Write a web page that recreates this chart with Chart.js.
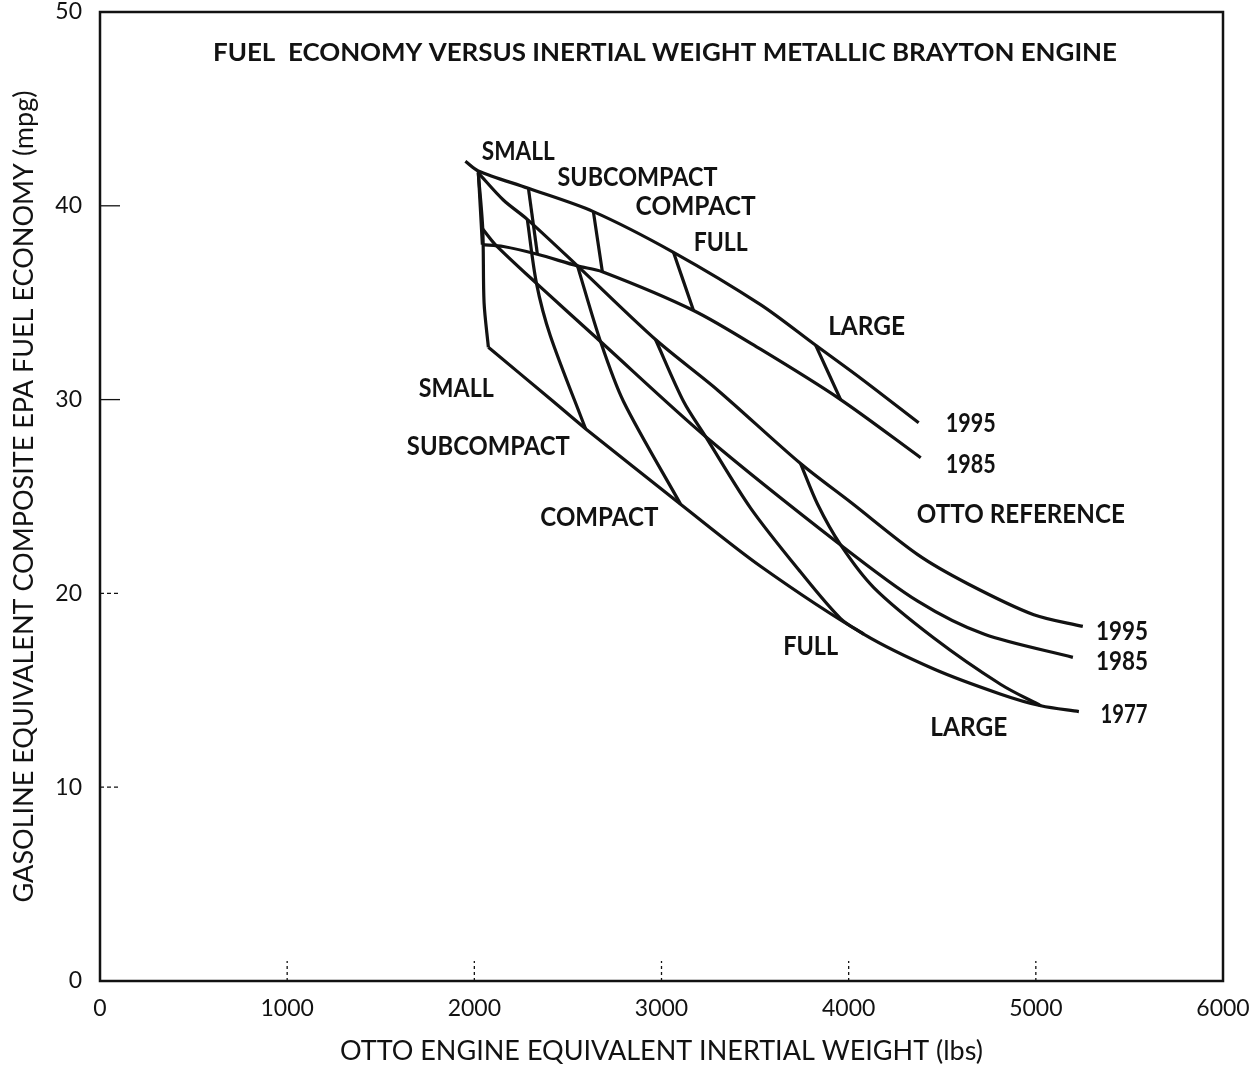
<!DOCTYPE html>
<html>
<head>
<meta charset="utf-8">
<title>Fuel economy versus inertial weight - metallic Brayton engine</title>
<script src="https://cdn.jsdelivr.net/npm/chart.js@4.4.1/dist/chart.umd.min.js"></script>
<style>
  html, body { margin: 0; padding: 0; background: #fff; }
  #wrap { width: 1256px; height: 1067px; }
</style>
</head>
<body>
<div id="wrap"><canvas id="myChart"></canvas></div>
<script>
// [inertial weight (lbs), mpg]

// metallic brayton engine
var brayton1995 = [[1952, 42.3], [2021, 41.8], [2289, 40.9], [2636, 39.7], [3064, 37.6], [3529, 34.9], [3824, 32.8], [4064, 31.1], [4374, 28.8]];
var brayton1985 = [[2043, 38.0], [2155, 37.9], [2337, 37.5], [2551, 36.9], [2684, 36.6], [3171, 34.6], [3529, 32.6], [3957, 30.0], [4385, 27.0]];

// brayton class tie lines (1995 -> 1985)
var braytonSmall = [[2021, 41.8], [2043, 38.0]];
var braytonSubcompact = [[2289, 40.9], [2337, 37.5]];
var braytonCompact = [[2636, 39.7], [2684, 36.6]];
var braytonFull = [[3064, 37.6], [3171, 34.6]];
var braytonLarge = [[3824, 32.8], [3957, 30.0]];

// otto reference
var otto1995 = [[2021, 41.7], [2155, 40.3], [2283, 39.3], [2551, 36.9], [2968, 33.1], [3299, 30.5], [3743, 26.7], [4011, 24.7], [4369, 22.0], [4636, 20.5], [4989, 18.9], [5251, 18.3]];
var otto1985 = [[2045, 38.8], [2112, 38.0], [2332, 36.0], [2674, 33.0], [3235, 28.1], [3957, 22.5], [4369, 19.6], [4722, 17.9], [5198, 16.7]];
var otto1977 = [[2075, 32.7], [2422, 29.9], [2594, 28.5], [3102, 24.6], [3529, 21.4], [4080, 17.9], [4455, 16.1], [4813, 14.8], [5027, 14.2], [5230, 13.9]];

// otto class tie lines (1995 -> 1985 -> 1977)
var ottoSmall = [[2021, 41.7], [2045, 38.8], [2052, 35.0], [2075, 32.7]];
var ottoSubcompact = [[2283, 39.3], [2332, 36.0], [2406, 33.3], [2594, 28.5]];
var ottoCompact = [[2551, 36.9], [2674, 33.0], [2797, 29.9], [3102, 24.6]];
var ottoFull = [[2968, 33.1], [3118, 29.9], [3235, 28.1], [3476, 24.4], [3743, 21.1], [3957, 18.7], [4080, 17.9]];
var ottoLarge = [[3743, 26.7], [3834, 24.6], [3957, 22.5], [4134, 20.3], [4455, 17.7], [4813, 15.3], [5027, 14.2]];

var xTicks = [0, 1000, 2000, 3000, 4000, 5000, 6000];
var yTicks = [0, 10, 20, 30, 40, 50];

var titleText = 'FUEL  ECONOMY VERSUS INERTIAL WEIGHT METALLIC BRAYTON ENGINE';
var xTitle = 'OTTO ENGINE EQUIVALENT INERTIAL WEIGHT (lbs)';
var yTitle = 'GASOLINE EQUIVALENT COMPOSITE EPA FUEL ECONOMY (mpg)';

// text on the plot, anchored in data units (w = printed width in px)
var notes = [
  { t: 'SMALL', x: 2235, y: 42.85, w: 73 },
  { t: 'SUBCOMPACT', x: 2872, y: 41.5, w: 160 },
  { t: 'COMPACT', x: 3182, y: 40.0, w: 120 },
  { t: 'FULL', x: 3316, y: 38.15, w: 54 },
  { t: 'LARGE', x: 4096, y: 33.8, w: 77 },
  { t: '1995', x: 4652, y: 28.8, w: 50 },
  { t: '1985', x: 4652, y: 26.7, w: 50 },
  { t: 'OTTO REFERENCE', x: 4920, y: 24.1, w: 208 },
  { t: '1995', x: 5460, y: 18.05, w: 52 },
  { t: '1985', x: 5460, y: 16.5, w: 52 },
  { t: '1977', x: 5471, y: 13.8, w: 47 },
  { t: 'SMALL', x: 1904, y: 30.6, w: 75 },
  { t: 'SUBCOMPACT', x: 2075, y: 27.6, w: 163 },
  { t: 'COMPACT', x: 2668, y: 23.96, w: 118 },
  { t: 'FULL', x: 3797, y: 17.3, w: 55 },
  { t: 'LARGE', x: 4642, y: 13.1, w: 77 }
];

var ink = '#121212';

var curve = function (pts) {
  return {
    data: pts.map(function (p) { return { x: p[0], y: p[1] }; }),
    showLine: true,
    borderColor: ink,
    borderWidth: 3.2,
    pointRadius: 0,
    tension: 0.3,
    fill: false
  };
};

var putText = function (ctx, text, px, py, w, font, capH) {
  ctx.save();
  ctx.font = font;
  var m = ctx.measureText(text).width;
  ctx.translate(px, py + capH / 2);
  if (w) ctx.scale(w / m, 1);
  ctx.textAlign = 'center';
  ctx.textBaseline = 'alphabetic';
  ctx.fillStyle = ink;
  ctx.fillText(text, 0, 0);
  ctx.restore();
};

var frame = {
  id: 'frame',
  afterDatasetsDraw: function (chart) {
    var ctx = chart.ctx, a = chart.chartArea;
    var xs = chart.scales.x, ys = chart.scales.y;
    ctx.save();
    ctx.strokeStyle = ink;
    ctx.lineWidth = 2.5;
    ctx.strokeRect(a.left, a.top, a.right - a.left, a.bottom - a.top);

    // short inward ticks
    ctx.lineWidth = 1.3;
    yTicks.slice(1, -1).forEach(function (v) {
      var py = ys.getPixelForValue(v);
      ctx.setLineDash(v >= 30 ? [] : [4, 3]);
      ctx.beginPath();
      ctx.moveTo(a.left, py);
      ctx.lineTo(a.left + 20, py);
      ctx.stroke();
    });
    ctx.setLineDash([3, 3]);
    xTicks.slice(1, -1).forEach(function (v) {
      var px = xs.getPixelForValue(v);
      ctx.beginPath();
      ctx.moveTo(px, a.bottom);
      ctx.lineTo(px, a.bottom - 20);
      ctx.stroke();
    });
    ctx.restore();

    putText(ctx, titleText, 665, 52, 904, 'bold 24px Lato', 17);
    notes.forEach(function (n) {
      putText(ctx, n.t, xs.getPixelForValue(n.x), ys.getPixelForValue(n.y), n.w, 'bold 26px Lato', 18.5);
    });
  }
};

var plain = function (v) { return String(v); };

var ctx = document.getElementById('myChart');
var myChart = new Chart(ctx, {
  type: 'scatter',
  data: {
    datasets: [
      curve(brayton1995), curve(brayton1985),
      curve(braytonSmall), curve(braytonSubcompact), curve(braytonCompact), curve(braytonFull), curve(braytonLarge),
      curve(otto1995), curve(otto1985), curve(otto1977),
      curve(ottoSmall), curve(ottoSubcompact), curve(ottoCompact), curve(ottoFull), curve(ottoLarge)
    ]
  },
  options: {
    responsive: true,
    maintainAspectRatio: false,
    animation: false,
    layout: { padding: { top: 12, right: 33, left: 0, bottom: 0 } },
    plugins: {
      legend: { display: false },
      tooltip: { enabled: false }
    },
    scales: {
      x: {
        type: 'linear',
        min: 0,
        max: 6000,
        afterBuildTicks: function (s) { s.ticks = xTicks.map(function (v) { return { value: v }; }); },
        afterFit: function (s) { s.height = 86; },
        grid: { display: true, drawOnChartArea: false, drawTicks: true, tickLength: 16, tickColor: 'rgba(0,0,0,0)' },
        border: { display: false },
        ticks: { color: ink, padding: 0, maxRotation: 0, callback: plain, font: { family: 'Lato', size: 23, lineHeight: 1 } },
        title: { display: true, text: xTitle, color: ink, padding: { top: 0, bottom: 2 }, font: { family: 'Lato', size: 27, lineHeight: 1 } }
      },
      y: {
        type: 'linear',
        min: 0,
        max: 50,
        afterBuildTicks: function (s) { s.ticks = yTicks.map(function (v) { return { value: v }; }); },
        afterFit: function (s) { s.width = 100; },
        grid: { display: true, drawOnChartArea: false, drawTicks: true, tickLength: 18, tickColor: 'rgba(0,0,0,0)' },
        border: { display: false },
        ticks: { color: ink, padding: 0, callback: plain, font: { family: 'Lato', size: 23, lineHeight: 1 } },
        title: { display: true, text: yTitle, color: ink, padding: { top: 11, bottom: 0 }, font: { family: 'Lato', size: 27, lineHeight: 1 } }
      }
    }
  },
  plugins: [frame]
});
</script>
</body>
</html>
